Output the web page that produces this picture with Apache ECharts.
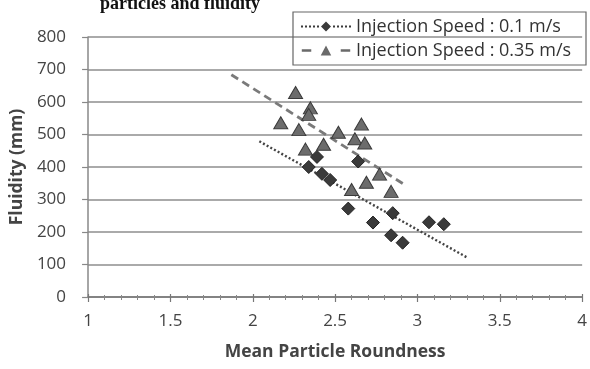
<!DOCTYPE html>
<html>
<head>
<meta charset="utf-8">
<script src="https://cdn.jsdelivr.net/npm/echarts@6/dist/echarts.min.js"></script>
<style>html,body{margin:0;padding:0;background:#fff;}#c{width:590px;height:369px;}</style>
</head>
<body>
<div id="c"></div>
<script>
// ---- data ----
const seriesNames = ['Injection Speed : 0.1 m/s', 'Injection Speed : 0.35 m/s'];
const roundness01 = [2.34, 2.39, 2.42, 2.47, 2.58, 2.64, 2.73, 2.85, 2.84, 2.91, 3.07, 3.16];
const fluidity01  = [400, 431, 379, 360, 272, 417, 229, 258, 190, 167, 230, 224];
const roundness035 = [2.26, 2.35, 2.34, 2.17, 2.28, 2.52, 2.66, 2.62, 2.68, 2.43, 2.32, 2.77, 2.69, 2.60, 2.84];
const fluidity035  = [629, 582, 562, 536, 515, 507, 532, 487, 474, 470, 455, 378, 353, 331, 325];
const trend01X = [2.04, 3.30];
const trend01Y = [479, 122];
const trend035X = [1.87, 2.93];
const trend035Y = [684, 343];
const xTicks = [1, 1.5, 2, 2.5, 3, 3.5, 4];
const yTicks = [0, 100, 200, 300, 400, 500, 600, 700, 800];
const titleText = 'particles and fluidity';
const xName = 'Mean Particle Roundness';
const yName = 'Fluidity (mm)';

const zip = (a, b) => a.map((v, i) => [v, b[i]]);
const FONT = 'Open Sans';

const iconDotted = 'path://M0 4h2v2h-2z M4 4h2v2h-2z M8 4h2v2h-2z M12 4h2v2h-2z M16 4h2v2h-2z M25 0L30 5L25 10L20 5Z M32 4h2v2h-2z M36 4h2v2h-2z M40 4h2v2h-2z M44 4h2v2h-2z M48 4h2v2h-2z';
const iconDashed = 'path://M2 4h9v2.5h-9z M25 0.5L30 10L20 10Z M39 4h9v2.5h-9z';

const chart = echarts.init(document.getElementById('c'), null, {renderer: 'canvas'});
chart.setOption({
  animation: false,
  backgroundColor: '#fff',
  title: {
    text: titleText, left: 100, top: -5, padding: 0,
    textStyle: {fontFamily: 'Liberation Serif', fontWeight: 'bold', fontSize: 18, color: '#111'}
  },
  legend: {
    orient: 'vertical', left: 293, top: 12,
    padding: [5, 8, 5, 8], itemGap: 5, itemWidth: 50, itemHeight: 10,
    borderColor: '#666', borderWidth: 1.2,
    textStyle: {fontFamily: FONT, fontSize: 18, color: '#333', width: 222, lineHeight: 19, overflow: 'none'},
    data: [
      {name: seriesNames[0], icon: iconDotted, itemStyle: {color: '#3a3a3a', borderWidth: 0}},
      {name: seriesNames[1], icon: iconDashed, itemStyle: {color: '#6a6a6a', borderWidth: 0}}
    ]
  },
  grid: {left: 87, right: -4, top: 37, bottom: 72},
  xAxis: [{
    type: 'value', min: xTicks[0], max: xTicks[xTicks.length - 1], interval: 0.5,
    name: xName, nameLocation: 'middle', nameGap: 46,
    nameTextStyle: {fontFamily: FONT, fontWeight: 'bold', fontSize: 17.5, color: '#444'},
    axisLine: {show: true, onZero: false, lineStyle: {color: '#777', width: 1.5}},
    axisTick: {show: true, length: 5, lineStyle: {color: '#777', width: 1.2}},
    minorTick: {show: true, splitNumber: 5, length: 3, lineStyle: {color: '#888', width: 1}},
    axisLabel: {margin: 16, fontFamily: FONT, fontSize: 17, color: '#444'},
    splitLine: {show: false}
  }, {
    type: 'value', min: xTicks[0], max: xTicks[xTicks.length - 1], interval: 0.5,
    position: 'bottom',
    axisLine: {show: false},
    axisTick: {show: true, inside: true, length: 3, lineStyle: {color: '#777', width: 1.2}},
    minorTick: {show: true, splitNumber: 5, length: 2, lineStyle: {color: '#888', width: 1}},
    axisLabel: {show: false}, splitLine: {show: false}
  }],
  yAxis: {
    type: 'value', min: yTicks[0], max: yTicks[yTicks.length - 1], interval: 100,
    name: yName, nameLocation: 'middle', nameGap: 60,
    nameTextStyle: {fontFamily: FONT, fontWeight: 'bold', fontSize: 17.5, color: '#444'},
    axisLine: {show: true, lineStyle: {color: '#888', width: 1.5}},
    axisTick: {show: true, length: 6, lineStyle: {color: '#888', width: 1.2}},
    axisLabel: {margin: 22, fontFamily: FONT, fontSize: 17, color: '#444'},
    splitLine: {show: true, lineStyle: {color: '#8e8e8e', width: 1.5}}
  },
  series: [
    {
      name: 'trend01', type: 'line', data: zip(trend01X, trend01Y), symbol: 'none',
      lineStyle: {color: '#444', width: 2.4, type: [2, 2.2]}, z: 3, silent: true
    },
    {
      name: 'trend035', type: 'line', data: zip(trend035X, trend035Y), symbol: 'none',
      lineStyle: {color: '#7a7a7a', width: 2.8, type: [8, 5]}, z: 3, silent: true
    },
    {
      name: seriesNames[0], type: 'scatter', data: zip(roundness01, fluidity01),
      symbol: 'diamond', symbolSize: 13,
      itemStyle: {color: '#3a3a3a', borderColor: '#222', borderWidth: 1, opacity: 1}, z: 5
    },
    {
      name: seriesNames[1], type: 'scatter', data: zip(roundness035, fluidity035),
      symbol: 'triangle', symbolSize: [14, 12],
      itemStyle: {color: '#6c6c6c', borderColor: '#3a3a3a', borderWidth: 1, opacity: 1}, z: 4
    }
  ]
});
</script>
</body>
</html>
